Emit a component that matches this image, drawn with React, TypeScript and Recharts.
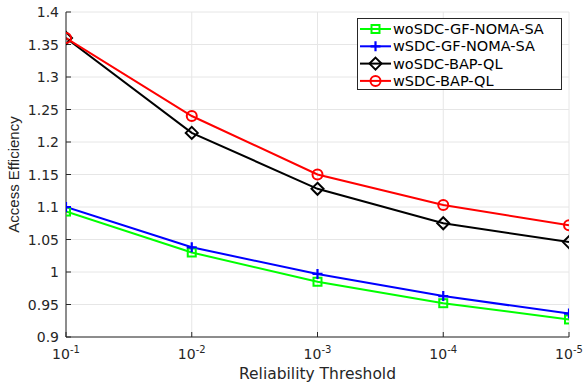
import React from 'react';
import { LineChart, Line, XAxis, YAxis, CartesianGrid, Label } from 'recharts';

const exponents = [1, 2, 3, 4, 5];
const xTickSuperscripts = ['-1', '-2', '-3', '-4', '-5'];
const yTicks = [0.9, 0.95, 1, 1.05, 1.1, 1.15, 1.2, 1.25, 1.3, 1.35, 1.4];
const woSdcGfNomaSa = [1.093, 1.03, 0.985, 0.952, 0.927];
const wSdcGfNomaSa = [1.1, 1.038, 0.997, 0.963, 0.936];
const woSdcBapQl = [1.36, 1.214, 1.128, 1.075, 1.046];
const wSdcBapQl = [1.36, 1.24, 1.15, 1.103, 1.072];
const seriesNames = ['woSDC-GF-NOMA-SA', 'wSDC-GF-NOMA-SA', 'woSDC-BAP-QL', 'wSDC-BAP-QL'];
const seriesColors = ['#00ff00', '#0000ff', '#000000', '#ff0000'];
const seriesMarkers = ['square', 'plus', 'diamond', 'circle'];
const xAxisTitle = 'Reliability Threshold';
const yAxisTitle = 'Access Efficiency';

const seriesValues = [woSdcGfNomaSa, wSdcGfNomaSa, woSdcBapQl, wSdcBapQl];
const keys = ['s0', 's1', 's2', 's3'];

const data = exponents.map((e, i) => {
  const row: any = { x: e };
  keys.forEach((k, j) => {
    row[k] = seriesValues[j][i];
  });
  return row;
});

const AXIS = '#262626';
const FONT = '"DejaVu Sans", sans-serif';

function Marker({ kind, cx, cy, color }: any) {
  if (cx == null || cy == null) return <g />;
  switch (kind) {
    case 'square':
      return <rect x={cx - 4} y={cy - 4} width={8} height={8} fill="none" stroke={color} strokeWidth={2} />;
    case 'plus':
      return (
        <path d={`M${cx - 5},${cy}H${cx + 5}M${cx},${cy - 5}V${cy + 5}`} stroke={color} strokeWidth={2.2} fill="none" />
      );
    case 'diamond':
      return (
        <path
          d={`M${cx},${cy - 6}L${cx + 6},${cy}L${cx},${cy + 6}L${cx - 6},${cy}Z`}
          stroke={color}
          strokeWidth={2}
          fill="none"
        />
      );
    default:
      return <circle cx={cx} cy={cy} r={5} stroke={color} strokeWidth={2} fill="none" />;
  }
}

const XTick = (props: any) => {
  const { x, y, payload } = props;
  const i = exponents.indexOf(payload.value);
  return (
    <text x={x} y={y + 22} textAnchor="middle" fontSize={14} fontFamily={FONT} fill={AXIS}>
      <tspan>10</tspan>
      <tspan fontSize={10} dy={-6}>
        {xTickSuperscripts[i]}
      </tspan>
    </text>
  );
};

const YTick = (props: any) => {
  const { x, y, payload } = props;
  return (
    <text x={x} y={y} dy={5} textAnchor="end" fontSize={14} fontFamily={FONT} fill={AXIS}>
      {String(payload.value)}
    </text>
  );
};

const Empty = () => <g />;

const LegendBox = () => (
  <svg width={205} height={72} style={{ display: 'block' }}>
    <rect x={0.5} y={0.5} width={204} height={71} fill="#fff" stroke={AXIS} strokeWidth={1} />
    {seriesNames.map((name, i) => {
      const cy = 11 + i * 17.3;
      return (
        <g key={name}>
          <line x1={3} x2={34} y1={cy} y2={cy} stroke={seriesColors[i]} strokeWidth={2} />
          <Marker kind={seriesMarkers[i]} cx={18.5} cy={cy} color={seriesColors[i]} />
          <text x={36} y={cy} dy={5} fontSize={14.5} fontFamily={FONT} fill="#000">
            {name}
          </text>
        </g>
      );
    })}
  </svg>
);

export default function App() {
  return (
    <div style={{ position: 'absolute', left: 0, top: 0, width: 585, height: 388, background: '#fff' }}>
      <LineChart width={585} height={388} data={data} margin={{ top: 12, right: 16, bottom: 0, left: 0 }}>
        <CartesianGrid stroke="#e6e6e6" strokeWidth={1} />
        <XAxis
          dataKey="x"
          type="number"
          domain={[1, 5]}
          ticks={exponents}
          allowDataOverflow
          height={51}
          tickSize={-5}
          tickMargin={5}
          stroke={AXIS}
          tick={<XTick />}
          interval={0}
        >
          <Label
            content={(p: any) => {
              const vb = p.viewBox || {};
              return (
                <text
                  x={vb.x + vb.width / 2}
                  y={vb.y + 42}
                  textAnchor="middle"
                  fontSize={15.5}
                  fontFamily={FONT}
                  fill={AXIS}
                >
                  {xAxisTitle}
                </text>
              );
            }}
          />
        </XAxis>
        <XAxis
          xAxisId="top"
          orientation="top"
          dataKey="x"
          type="number"
          domain={[1, 5]}
          ticks={exponents}
          allowDataOverflow
          height={0}
          tickSize={-5}
          stroke={AXIS}
          tick={<Empty />}
          interval={0}
        />
        <YAxis
          type="number"
          domain={[0.9, 1.4]}
          ticks={yTicks}
          allowDataOverflow
          width={66}
          tickSize={-5}
          tickMargin={12}
          stroke={AXIS}
          tick={<YTick />}
          interval={0}
        >
          <Label
            content={(p: any) => {
              const vb = p.viewBox || {};
              const cy = vb.y + vb.height / 2;
              return (
                <text
                  x={19}
                  y={cy}
                  textAnchor="middle"
                  fontSize={15}
                  fontFamily='"Liberation Sans", Arial, sans-serif'
                  fill={AXIS}
                  transform={`rotate(-90, 19, ${cy})`}
                >
                  {yAxisTitle}
                </text>
              );
            }}
          />
        </YAxis>
        <YAxis
          yAxisId="right"
          orientation="right"
          type="number"
          domain={[0.9, 1.4]}
          ticks={yTicks}
          allowDataOverflow
          width={0}
          tickSize={-5}
          stroke={AXIS}
          tick={<Empty />}
          interval={0}
        />
        {keys.map((k, i) => (
          <Line
            key={k}
            dataKey={k}
            name={seriesNames[i]}
            type="linear"
            stroke={seriesColors[i]}
            strokeWidth={2}
            isAnimationActive={false}
            activeDot={false}
            dot={(p: any) => (
              <Marker key={`${k}-${p.index}`} kind={seriesMarkers[i]} cx={p.cx} cy={p.cy} color={seriesColors[i]} />
            )}
          />
        ))}
      </LineChart>
      <div style={{ position: 'absolute', left: 357, top: 18 }}>
        <LegendBox />
      </div>
    </div>
  );
}
